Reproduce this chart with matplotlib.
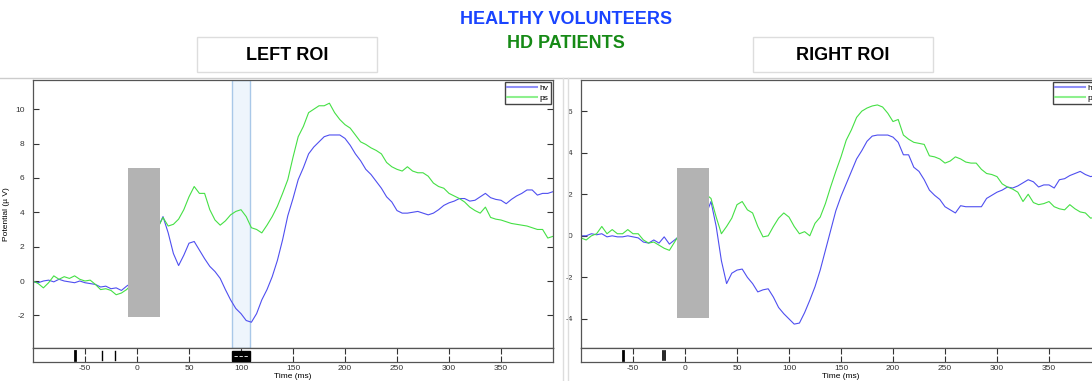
import numpy as np
import matplotlib
matplotlib.use('Agg')
import matplotlib.pyplot as plt
from matplotlib.patches import Rectangle
from matplotlib.lines import Line2D

plt.rcParams['font.family'] = ['Liberation Sans', 'DejaVu Sans']
plt.rcParams['axes.unicode_minus'] = False

nan = np.nan

# Tempo (ms), amostrado a cada 5 ms
tempo = np.arange(-100, 401, 5)

# ROI esquerda
esq_hv = [-0.05, -0.1, 0.0, 0.05, -0.05, 0.1, 0.0, -0.05, -0.1, 0.0,
          -0.1, -0.15, -0.2, -0.35, -0.3, -0.45, -0.4, -0.55, -0.3, -0.1,
          nan, nan, nan, nan,
          3.1, 3.75, 2.8, 1.6, 0.9, 1.5, 2.2, 2.3, 1.8, 1.3,
          0.85, 0.55, 0.15, -0.5, -1.1, -1.6, -1.9, -2.3, -2.4, -1.9,
          -1.1, -0.5, 0.25, 1.2, 2.4, 3.8, 4.8, 5.9, 6.6, 7.4,
          7.8, 8.1, 8.4, 8.5, 8.5, 8.5, 8.3, 7.9, 7.4, 7.0,
          6.5, 6.2, 5.8, 5.4, 4.9, 4.6, 4.1, 3.95, 3.95, 4.0,
          4.05, 3.95, 3.85, 3.95, 4.15, 4.4, 4.55, 4.65, 4.8, 4.8,
          4.65, 4.7, 4.9, 5.1, 4.85, 4.75, 4.7, 4.5, 4.75, 4.95,
          5.1, 5.3, 5.3, 5.0, 5.1, 5.1, 5.2]
esq_ps = [0.0, -0.15, -0.4, -0.1, 0.3, 0.1, 0.25, 0.15, 0.3, 0.1,
          0.0, 0.05, -0.2, -0.5, -0.45, -0.55, -0.8, -0.7, -0.5, -0.2,
          nan, nan, nan, nan,
          3.1, 3.7, 3.2, 3.3, 3.6, 4.15, 4.9, 5.5, 5.1, 5.1,
          4.15, 3.55, 3.25, 3.5, 3.85, 4.05, 4.15, 3.75, 3.1, 3.0,
          2.8, 3.25, 3.75, 4.35, 5.1, 5.9, 7.2, 8.4, 9.0, 9.8,
          10.0, 10.2, 10.2, 10.35, 9.8, 9.4, 9.1, 8.9, 8.5, 8.1,
          7.95, 7.75, 7.6, 7.4, 6.9, 6.65, 6.5, 6.4, 6.65, 6.4,
          6.3, 6.3, 6.1, 5.7, 5.5, 5.4, 5.1, 4.95, 4.8, 4.6,
          4.3, 4.1, 3.95, 4.3, 3.7, 3.6, 3.55, 3.45, 3.35, 3.3,
          3.25, 3.2, 3.1, 3.0, 3.0, 2.5, 2.6]

# ROI direita
dir_hv = [0.0, 0.0, 0.1, 0.05, 0.1, -0.05, 0.0, -0.05, -0.05, 0.0,
          -0.05, -0.1, -0.3, -0.35, -0.2, -0.35, -0.05, -0.4, -0.2, 0.0,
          nan, nan, nan, nan,
          1.0, 1.65, 0.45, -1.2, -2.3, -1.8, -1.65, -1.6, -2.0, -2.3,
          -2.7, -2.6, -2.55, -2.95, -3.45, -3.75, -4.0, -4.25, -4.2, -3.7,
          -3.1, -2.45, -1.65, -0.7, 0.25, 1.2, 1.9, 2.5, 3.1, 3.7,
          4.1, 4.55, 4.8, 4.85, 4.85, 4.85, 4.75, 4.5, 3.9, 3.9,
          3.3, 3.1, 2.7, 2.2, 1.95, 1.75, 1.4, 1.25, 1.1, 1.45,
          1.4, 1.4, 1.4, 1.4, 1.8, 1.95, 2.1, 2.2, 2.35, 2.3,
          2.4, 2.55, 2.7, 2.6, 2.35, 2.45, 2.45, 2.3, 2.7, 2.75,
          2.9, 3.0, 3.1, 2.95, 2.85, 2.9, 2.9]
dir_ps = [-0.1, -0.2, 0.0, 0.1, 0.45, 0.1, 0.3, 0.1, 0.1, 0.3,
          0.1, 0.1, -0.2, -0.35, -0.3, -0.45, -0.6, -0.7, -0.3, 0.1,
          nan, nan, nan, nan,
          2.0, 1.8, 0.9, 0.1, 0.45, 0.85, 1.5, 1.65, 1.25, 1.1,
          0.45, -0.05, 0.0, 0.45, 0.85, 1.1, 0.9, 0.45, 0.1, 0.2,
          0.0, 0.6, 0.9, 1.55, 2.35, 3.1, 3.8, 4.6, 5.1, 5.7,
          6.0, 6.15, 6.25, 6.3, 6.2, 5.9, 5.5, 5.6, 4.85, 4.65,
          4.5, 4.45, 4.4, 3.85, 3.8, 3.7, 3.5, 3.6, 3.8, 3.7,
          3.55, 3.5, 3.5, 3.2, 3.0, 2.95, 2.85, 2.5, 2.35, 2.25,
          2.1, 1.65, 2.0, 1.6, 1.5, 1.55, 1.65, 1.4, 1.3, 1.25,
          1.5, 1.3, 1.15, 1.1, 0.85, 0.9, 0.8]

# Marcadores de eventos (ms)
eventos_esq = [(-60, 2.0), (-34, 1.0), (-21, 1.0)]
eventos_dir = [(-60, 2.0), (-21, 1.2), (-19, 1.2)]

cor_hv = '#4f4ff0'
cor_ps = '#45e045'

W, H = 1092, 381
fig = plt.figure(figsize=(W / 100, H / 100), dpi=100)


def caixa(px, py, pw, ph):
    # converte pixels (origem no topo) para fração da figura
    return [px / W, 1 - (py + ph) / H, pw / W, ph / H]


def painel(x0, hv, ps, ylim, yticks, retangulo, eventos, janela=None):
    ax = fig.add_axes(caixa(x0, 80, 520, 268))
    faixa = fig.add_axes(caixa(x0, 348, 520, 14))

    if janela:
        ax.axvspan(janela[0], janela[1], fc='#eef5fc', ec='#a9c8e8', lw=1, zorder=0)
        faixa.axvspan(janela[0], janela[1], ymin=0.1, ymax=0.8, fc='black', ec='black', zorder=3)
        faixa.plot([janela[0] + 2, janela[1] - 2], [0.45, 0.45], color='white', lw=0.6,
                   ls=(0, (4, 2)), zorder=4)

    ax.plot(tempo, hv, color=cor_hv, lw=0.8, label='hv', zorder=2)
    ax.plot(tempo, ps, color=cor_ps, lw=0.8, label='ps', zorder=2)
    r0, r1, b0, b1 = retangulo
    ax.add_patch(Rectangle((r0, b0), r1 - r0, b1 - b0, fc='#b3b3b3', ec='none', zorder=4))

    ax.set_xlim(-100, 400)
    ax.set_ylim(*ylim)
    ax.set_yticks(yticks)
    ax.set_xticks([])
    ax.tick_params(axis='y', direction='in', left=True, right=True, length=4,
                   labelsize=6, colors='#333333', pad=6)
    for s in ax.spines.values():
        s.set_color('#555555')
        s.set_linewidth(0.9)

    ax.legend(handles=[Line2D([], [], color='#8f8ff8', lw=1.5),
                       Line2D([], [], color='#8ef08e', lw=1.5)],
              labels=['hv', 'ps'], loc='upper right', fontsize=6, frameon=True,
              fancybox=False, edgecolor='#444444', framealpha=1, handlelength=3.6,
              handletextpad=0.3, borderpad=0.25, labelspacing=0.2,
              borderaxespad=0.25)

    for t, largura in eventos:
        faixa.axvline(t, ymin=0.15, ymax=0.8, color='black', lw=largura)
    faixa.set_xlim(-100, 400)
    faixa.set_ylim(0, 1)
    faixa.set_yticks([])
    faixa.set_xticks(range(-50, 400, 50))
    faixa.tick_params(axis='x', direction='in', top=True, bottom=True, length=4,
                      labelsize=6, colors='#333333', pad=2)
    for s in faixa.spines.values():
        s.set_color('#555555')
        s.set_linewidth(0.9)
    faixa.set_xlabel('Time (ms)', fontsize=6, labelpad=1)
    return ax


ax1 = painel(33, esq_hv, esq_ps, (-3.9, 11.7), [-2, 0, 2, 4, 6, 8, 10],
             (-9, 22, -2.1, 6.55), eventos_esq, janela=(91, 109))
ax1.set_ylabel('Potential (µ V)', fontsize=6, labelpad=4)

ax2 = painel(581, dir_hv, dir_ps, (-5.4, 7.5), [-4, -2, 0, 2, 4, 6],
             (-8, 23, -3.95, 3.25), eventos_dir)

# bordas das janelas
fig.add_artist(Line2D([0, 1], [1 - 78 / H] * 2, color='#cccccc', lw=1))
for px in (563, 568):
    fig.add_artist(Line2D([px / W] * 2, [0, 1 - 78 / H], color='#dddddd', lw=1))

# caixas de título
for px, titulo in [(197, 'LEFT ROI'), (753, 'RIGHT ROI')]:
    fig.add_artist(Rectangle(((px) / W, 1 - 72 / H), 180 / W, 35 / H,
                             transform=fig.transFigure, fc='white', ec='#dddddd', lw=1))
    fig.text((px + 90) / W, 1 - 56 / H, titulo, ha='center', va='center',
             fontsize=13, fontweight='bold', color='black')

fig.text(566 / W, 1 - 20 / H, 'HEALTHY VOLUNTEERS', ha='center', va='center',
         fontsize=13, fontweight='bold', color='#1a44ff')
fig.text(566 / W, 1 - 44 / H, 'HD PATIENTS', ha='center', va='center',
         fontsize=13, fontweight='bold', color='#168a16')

fig.savefig('out.png', dpi=100)
